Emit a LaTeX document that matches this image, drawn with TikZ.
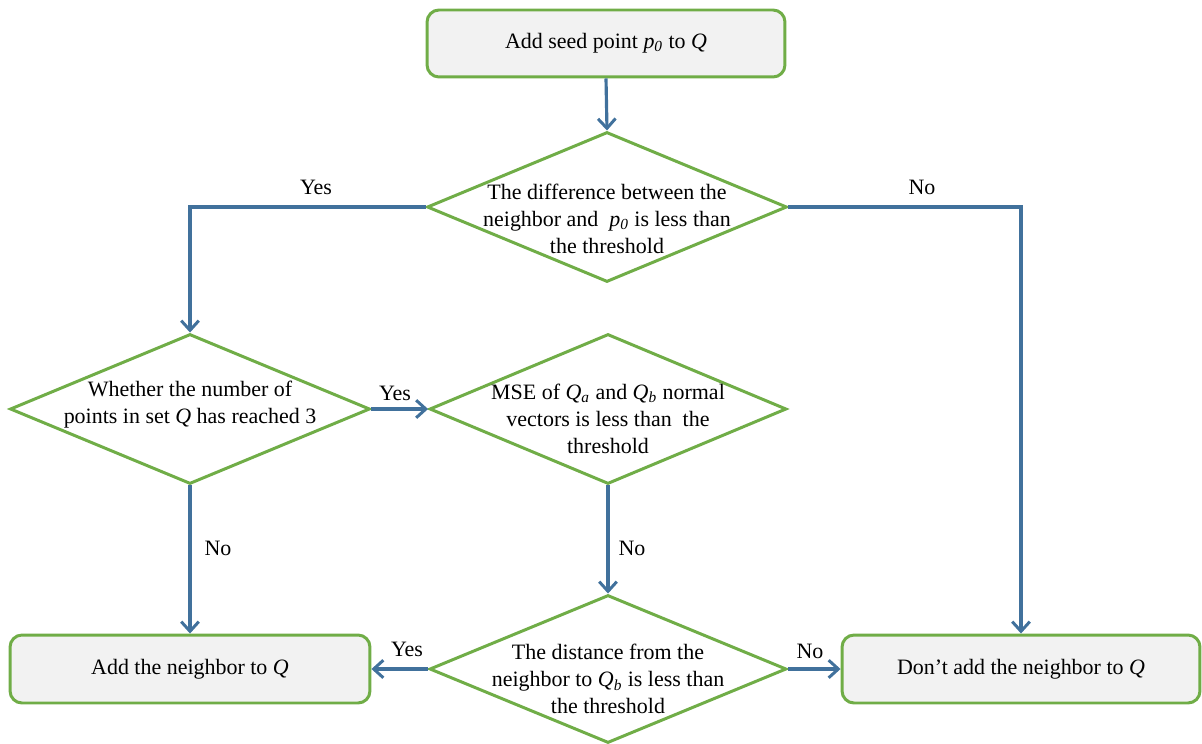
\documentclass[tikz,border=0pt]{standalone}
\usepackage{fontspec}
\setmainfont{Liberation Serif}
\usetikzlibrary{shapes.geometric,arrows.meta}
\definecolor{boxgreen}{HTML}{70AD47}
\definecolor{flowblue}{HTML}{41719C}
\definecolor{boxfill}{HTML}{F2F2F2}
\newcommand{\isub}[2]{\textit{#1}\textsubscript{\textit{#2}}}
\tikzset{
  txtfont/.style={font=\fontsize{12.5}{15.4}\selectfont},
  termbox/.style={draw=boxgreen, line width=1.7pt, fill=boxfill,
    rounded corners=0.24cm, inner sep=0pt, minimum height=1.34cm, txtfont},
  decision/.style={draw=boxgreen, line width=1.7pt, fill=white, shape=diamond,
    minimum width=7.2cm, minimum height=3cm, inner sep=0pt},
  dtext/.style={align=center, inner sep=0pt, txtfont},
  flow/.style={draw=flowblue, line width=1.8pt,
    -{Straight Barb[length=5.5pt,width=10pt,line width=1.7pt]}},
  lbl/.style={inner sep=0pt, txtfont}
}
\begin{document}
\begin{tikzpicture}[x=0.02cm, y=-0.02cm]
  \useasboundingbox (0,0) rectangle (1202,743);

  % boxes
  \node[termbox, minimum width=7.16cm] (start) at (606,43.5) {Add seed point \isub{p}{0} to \textit{Q}};
  \node[termbox, minimum width=7.2cm, minimum height=1.36cm] (addq) at (190,669) {Add the neighbor to \textit{Q}};
  \node[termbox, minimum width=7.16cm, minimum height=1.36cm] (noadd) at (1021,669) {Don’t add the neighbor to \textit{Q}};

  % decisions
  \node[decision] (d1) at (607,207) {};
  \node[dtext] (d1t) at (607,219) {The difference between the\\neighbor and \ \isub{p}{0} is less than\\the threshold};

  \node[decision] (d2) at (190,409) {};
  \node[dtext] (d2t) at (190,405) {Whether the number of\\points in set \textit{Q} has reached 3};

  \node[decision, minimum width=7.14cm] (d3) at (608,409) {};
  \node[dtext] (d3t) at (608,419) {MSE of \isub{Q}{a} and \isub{Q}{b} normal\\vectors is less than \ the\\threshold};

  \node[decision, minimum width=7.14cm, minimum height=2.96cm] (d4) at (608,669) {};
  \node[dtext] (d4t) at (608,679) {The distance from the\\neighbor to \isub{Q}{b} is less than\\the threshold};

  % connectors
  \draw[flow] (start.south) -- (d1.north);
  \draw[flow] (d1.west) -| (d2.north);
  \draw[flow] (d1.east) -| (noadd.north);
  \draw[flow] (d2.east) -- (d3.west);
  \draw[flow] (d2.south) -- (addq.north);
  \draw[flow] (d3.south) -- (d4.north);
  \draw[flow] (d4.west) -- (addq.east);
  \draw[flow] (d4.east) -- (noadd.west);

  % branch labels
  \node[lbl] (y1) at (316,187) {Yes};
  \node[lbl] (n1) at (922,187) {No};
  \node[lbl] (y2) at (395,393) {Yes};
  \node[lbl] (n2) at (218,548) {No};
  \node[lbl] (n3) at (632,548) {No};
  \node[lbl] (y3) at (407,649) {Yes};
  \node[lbl] (n4) at (810,651) {No};
\end{tikzpicture}
\end{document}
